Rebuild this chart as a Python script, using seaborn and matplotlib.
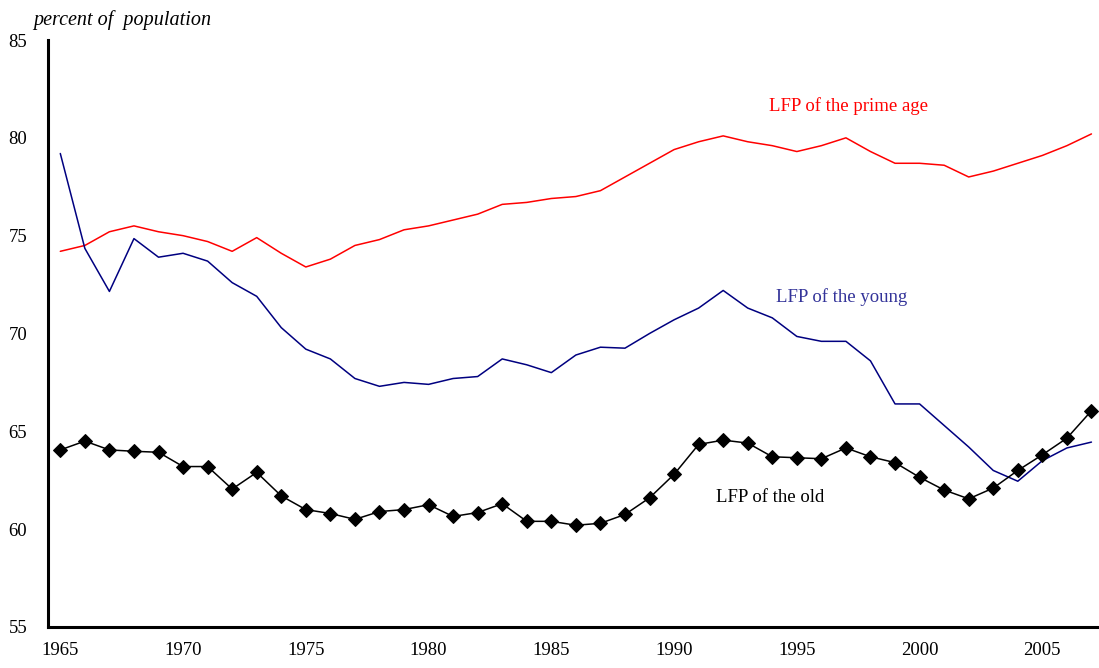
import numpy as np
import pandas as pd
import matplotlib
matplotlib.use("Agg")
import matplotlib.pyplot as plt
import seaborn as sns

years = list(range(1965, 2008))

prime_age = [74.2, 74.5, 75.2, 75.5, 75.2, 75.0, 74.7, 74.2, 74.9, 74.1,
             73.4, 73.8, 74.5, 74.8, 75.3, 75.5, 75.8, 76.1, 76.6, 76.7,
             76.9, 77.0, 77.3, 78.0, 78.7, 79.4, 79.8, 80.1, 79.8, 79.6,
             79.3, 79.6, 80.0, 79.3, 78.7, 78.7, 78.6, 78.0, 78.3, 78.7,
             79.1, 79.6, 80.2]

young = [79.2, 74.35, 72.15, 74.85, 73.9, 74.1, 73.7, 72.6, 71.9, 70.3,
         69.2, 68.7, 67.7, 67.3, 67.5, 67.4, 67.7, 67.8, 68.7, 68.4,
         68.0, 68.9, 69.3, 69.25, 70.0, 70.7, 71.3, 72.2, 71.3, 70.8,
         69.85, 69.6, 69.6, 68.6, 66.4, 66.4, 65.3, 64.2, 63.0, 62.45,
         63.5, 64.15, 64.45]

old = [64.05, 64.5, 64.05, 63.98, 63.93, 63.2, 63.2, 62.05, 62.9, 61.7,
       61.0, 60.8, 60.5, 60.9, 61.0, 61.25, 60.65, 60.85, 61.3, 60.4,
       60.4, 60.2, 60.3, 60.75, 61.6, 62.8, 64.33, 64.55, 64.4, 63.7,
       63.65, 63.6, 64.15, 63.7, 63.4, 62.65, 62.0, 61.55, 62.1, 63.0,
       63.8, 64.65, 66.05]

df = pd.DataFrame({"year": years, "prime": prime_age, "young": young, "old": old})

sns.set_style("white")
plt.rcParams['font.family'] = ['Liberation Serif', 'DejaVu Serif']
plt.rcParams['text.color'] = 'black'
plt.rcParams['xtick.color'] = 'black'
plt.rcParams['ytick.color'] = 'black'

fig = plt.figure(figsize=(10.99, 6.68), dpi=100)
ax = fig.add_axes([0.0437, 0.0614, 0.9606, 0.8787])

sns.lineplot(data=df, x="year", y="prime", ax=ax, color="#ff0000", lw=1.1)
sns.lineplot(data=df, x="year", y="young", ax=ax, color="#000080", lw=1.1)
sns.lineplot(data=df, x="year", y="old", ax=ax, color="black", lw=1.1,
             marker="D", markersize=7, markeredgecolor="black")

ax.set_xlim(1964.5, 2007.5)
ax.set_ylim(55, 85)
ax.set_xlabel("")
ax.set_ylabel("")

# ticks between categories, labels on the categories
ax.set_xticks([1964.5 + 5 * k for k in range(9)])
ax.set_xticklabels([])
ax.set_xticks(list(range(1965, 2006, 5)), minor=True)
ax.set_xticklabels([str(y) for y in range(1965, 2006, 5)], minor=True, fontsize=13.5)
ax.tick_params(axis="x", which="major", direction="in", length=5, width=1, color="black")
ax.tick_params(axis="x", which="minor", length=0, pad=11, labelcolor="black")

ax.set_yticks(range(55, 86, 5))
ax.tick_params(axis="y", direction="in", length=5, width=1, color="black",
               labelcolor="black", labelsize=13.5, pad=15)

for s in ["top", "right"]:
    ax.spines[s].set_visible(False)
for s in ["left", "bottom"]:
    ax.spines[s].set_linewidth(2.2)
    ax.spines[s].set_color("black")

ax.text(1993.85, 81.6, "LFP of the prime age", color="#ff0000", fontsize=13.5, va="center")
ax.text(1994.15, 71.85, "LFP of the young", color="#333399", fontsize=13.5, va="center")
ax.text(1991.7, 61.6, "LFP of the old", color="black", fontsize=13.5, va="center")

fig.text(0.030, 0.970, "percent of  population", fontsize=14.5, style="italic",
         va="center", color="black")

fig.savefig("out.png", dpi=100)
